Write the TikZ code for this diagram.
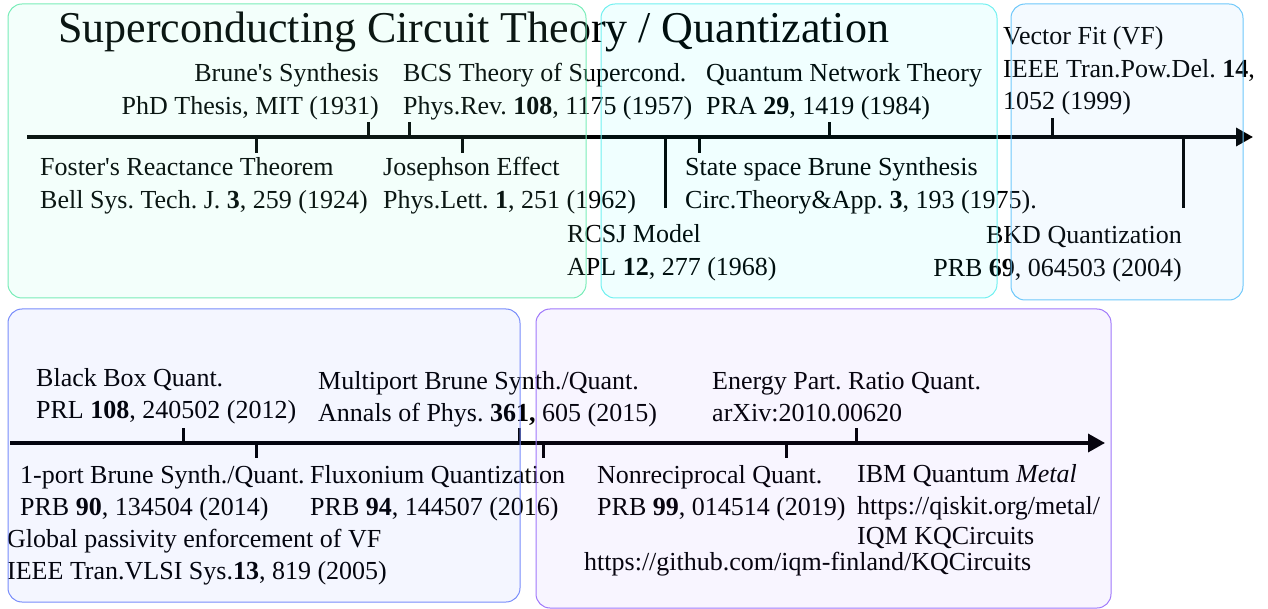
\documentclass[tikz,border=0pt]{standalone}
\usepackage{fontspec}
\setmainfont{Liberation Serif}[Ligatures=TeXOff]
\usetikzlibrary{arrows.meta}
\frenchspacing
\definecolor{bgreenB}{RGB}{120,236,184}
\definecolor{bgreenF}{RGB}{127,255,212}
\definecolor{bcyanB}{RGB}{112,240,240}
\definecolor{bcyanF}{RGB}{0,255,255}
\definecolor{bskyB}{RGB}{110,200,250}
\definecolor{bskyF}{RGB}{100,190,255}
\definecolor{bblueB}{RGB}{120,140,250}
\definecolor{bblueF}{RGB}{64,96,255}
\definecolor{bpurpB}{RGB}{160,120,250}
\definecolor{bpurpF}{RGB}{128,80,255}
\tikzset{
  lbl/.style={font=\fontsize{26}{32.5}\selectfont, inner sep=0pt, anchor=base west},
  lblr/.style={lbl, anchor=base east},
  axisline/.style={line width=3.5pt, -{Triangle[length=17pt,width=18pt]}},
  tick/.style={line width=3pt},
  era/.style={rounded corners=14pt, line width=1pt, fill opacity=0.09},
}
\newcommand{\lines}[1]{\begin{tabular}[t]{@{}l@{}}#1\end{tabular}}
\newcommand{\rlines}[1]{\begin{tabular}[t]{@{}r@{}}#1\end{tabular}}
\begin{document}
\begin{tikzpicture}[x=1pt,y=-1pt]
\useasboundingbox (0,0) rectangle (1268,609);
% title
\node[inner sep=0pt, anchor=base west, font=\fontsize{44}{50}\selectfont] (title) at (58,43) {Superconducting Circuit Theory / Quantization};
% axis 1
\coordinate (a1s) at (27,137);
\coordinate (a1e) at (1253,137);
\draw[axisline] (a1s) -- (a1e);
% axis 2
\coordinate (a2s) at (10,443);
\coordinate (a2e) at (1105,443);
\draw[axisline] (a2s) -- (a2e);
% labels row 1
\node[lblr] (brune) at (379,82) {\rlines{Brune's Synthesis\\PhD Thesis, MIT (1931)}};
\node[lbl] (bcs) at (403,82) {\lines{BCS Theory of Supercond.\\Phys.Rev. \textbf{108}, 1175 (1957)}};
\node[lbl] (qnt) at (706,82) {\lines{Quantum Network Theory\\PRA \textbf{29}, 1419 (1984)}};
\node[lbl] (vf) at (1003,45) {\lines{Vector Fit (VF)\\IEEE Tran.Pow.Del. \textbf{14},\\1052 (1999)}};
\node[lbl] (foster) at (40,176) {\lines{Foster's Reactance Theorem\\Bell Sys. Tech. J. \textbf{3}, 259 (1924)}};
\node[lbl] (joseph) at (383,176) {\lines{Josephson Effect\\Phys.Lett. \textbf{1}, 251 (1962)}};
\node[lbl] (ssb) at (685,176) {\lines{State space Brune Synthesis\\Circ.Theory\&App. \textbf{3}, 193 (1975).}};
\node[lbl] (rcsj) at (567,243) {\lines{RCSJ Model\\APL \textbf{12}, 277 (1968)}};
\node[lblr] (bkd) at (1182,244) {\rlines{BKD Quantization\\PRB \textbf{69}, 064503 (2004)}};
% ticks row 1
\foreach \n/\x/\y in {t1/368/122, t2/409/122, t3/829/122, t4/1052/118, t5/256/153, t6/462/153, t7/699/153, t8/665/208, t9/1183/208}
  {\coordinate (\n a) at (\x,137); \coordinate (\n b) at (\x,\y); \draw[tick] (\n a) -- (\n b);}
% labels row 2
\node[lbl] (bbq) at (36,386) {\lines{Black Box Quant.\\PRL \textbf{108}, 240502 (2012)}};
\node[lbl] (multi) at (318,389) {\lines{Multiport Brune Synth./Quant.\\Annals of Phys. \textbf{361,} 605 (2015)}};
\node[lbl] (epr) at (712,389) {\lines{Energy Part. Ratio Quant.\\arXiv:2010.00620}};
\node[lbl] (oneport) at (20,483) {\lines{1-port Brune Synth./Quant.\\PRB \textbf{90}, 134504 (2014)}};
\node[lbl] (flux) at (310,483) {\lines{Fluxonium Quantization\\PRB \textbf{94}, 144507 (2016)}};
\node[lbl] (gpe) at (7,547) {\lines{Global passivity enforcement of VF\\IEEE Tran.VLSI Sys.\textbf{13}, 819 (2005)}};
\node[lbl] (nonrec) at (597,483) {\lines{Nonreciprocal Quant.\\PRB \textbf{99}, 014514 (2019)}};
\node[lbl] (ibm) at (857,482) {\lines{IBM Quantum \textit{Metal}\\https://qiskit.org/metal/\\[-3pt]IQM KQCircuits}};
\node[lbl] (gh) at (584,570) {https://github.com/iqm-finland/KQCircuits};
% ticks row 2
\foreach \n/\x/\y in {u1/183/428, u2/519/428, u3/856/428, u4/256/458, u5/543/458, u6/786/458}
  {\coordinate (\n a) at (\x,443); \coordinate (\n b) at (\x,\y); \draw[tick] (\n a) -- (\n b);}
% era boxes
\draw[era, draw=bgreenB, fill=bgreenF] (8,4) rectangle (586,298);
\draw[era, draw=bcyanB, fill=bcyanF, fill opacity=0.06] (601,4) rectangle (997,298);
\draw[era, draw=bskyB, fill=bskyF, fill opacity=0.07] (1011,4) rectangle (1243,300);
\draw[era, draw=bblueB, fill=bblueF, fill opacity=0.06] (8,309) rectangle (520,602);
\draw[era, draw=bpurpB, fill=bpurpF, fill opacity=0.06] (536,309) rectangle (1111,608);
\end{tikzpicture}
\end{document}
